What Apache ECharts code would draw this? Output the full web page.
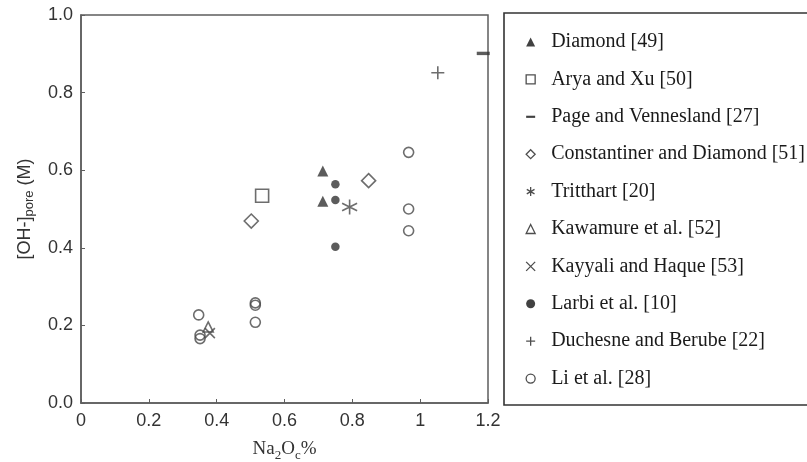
<!DOCTYPE html>
<html>
<head>
<meta charset="utf-8">
<script src="https://cdn.jsdelivr.net/npm/echarts@6/dist/echarts.min.js"></script>
<style>
  html, body { margin: 0; padding: 0; background: #fff; }
  #chart { width: 807px; height: 462px; }
</style>
</head>
<body>
<div id="chart"></div>
<script>
// Pore solution [OH-] against equivalent alkali content, by source
const seriesNames = [
  'Diamond [49]',
  'Arya and Xu [50]',
  'Page and Vennesland [27]',
  'Constantiner and Diamond [51]',
  'Tritthart [20]',
  'Kawamure et al. [52]',
  'Kayyali and Haque [53]',
  'Larbi et al. [10]',
  'Duchesne and Berube [22]',
  'Li et al. [28]'
];

// [Na2Oe %, [OH-] pore (M)]
const diamond49 = [[0.713, 0.598], [0.713, 0.520]];
const aryaXu50 = [[0.534, 0.534]];
const pageVennesland27 = [[1.186, 0.901]];
const constantinerDiamond51 = [[0.502, 0.469], [0.848, 0.573]];
const tritthart20 = [[0.792, 0.505]];
const kawamure52 = [[0.375, 0.196]];
const kayyaliHaque53 = [[0.380, 0.180]];
const larbi10 = [[0.750, 0.564], [0.750, 0.523], [0.750, 0.403]];
const duchesneBerube22 = [[1.052, 0.851]];
const li28 = [
  [0.966, 0.646], [0.966, 0.500], [0.966, 0.444],
  [0.514, 0.258], [0.514, 0.252], [0.514, 0.208],
  [0.347, 0.227], [0.351, 0.175], [0.351, 0.166]
];

const xTicks = { min: 0, max: 1.2, step: 0.2 };
const yTicks = { min: 0, max: 1.0, step: 0.2 };

const INK = '#333';
const LINE = '#484848';
const AXIS = '#5e5e5e';
const SANS = "'Liberation Sans Narrow', 'Liberation Sans', Arial, sans-serif";
const SERIF = "'Liberation Serif', 'Times New Roman', serif";

const PLUS = 'path://M5,0L5,10M0,5L10,5';
const CROSS = 'path://M0,0L10,10M10,0L0,10';
const STAR = 'path://M5,0L5,10M0.7,2.5L9.3,7.5M0.7,7.5L9.3,2.5';
const DASH = 'path://M0,0L10,0L10,2.4L0,2.4Z';

const filled = { color: INK, borderWidth: 0 };
const hollow = { color: 'rgba(0,0,0,0)', borderColor: LINE, borderWidth: 1.6 };

const styles = [
  { data: diamond49, symbol: 'triangle', size: 11, itemStyle: filled },
  { data: aryaXu50, symbol: 'rect', size: 13, itemStyle: hollow },
  { data: pageVennesland27, symbol: DASH, size: [13, 3.4], itemStyle: filled },
  { data: constantinerDiamond51, symbol: 'diamond', size: 14, itemStyle: hollow },
  { data: tritthart20, symbol: STAR, size: 15, itemStyle: hollow },
  { data: kawamure52, symbol: 'triangle', size: 10, itemStyle: hollow },
  { data: kayyaliHaque53, symbol: CROSS, size: 10, itemStyle: hollow },
  { data: larbi10, symbol: 'circle', size: 8.5, itemStyle: filled },
  { data: duchesneBerube22, symbol: PLUS, size: 13, itemStyle: hollow },
  { data: li28, symbol: 'circle', size: 10, itemStyle: hollow }
];

const series = styles.map((s, i) => ({
  name: seriesNames[i],
  type: 'scatter',
  data: s.data,
  symbol: s.symbol,
  symbolSize: s.size,
  itemStyle: s.itemStyle,
  clip: false,
  silent: true,
  z: 3
}));

const legendIcons = ['triangle', 'rect', DASH, 'diamond', STAR, 'triangle', CROSS, 'circle', PLUS, 'circle'];
const legendFilled = { color: '#111', borderWidth: 0 };
const legendHollow = { color: 'rgba(0,0,0,0)', borderColor: '#222', borderWidth: 1.3 };
const legendItemStyles = [
  legendFilled, legendHollow, legendFilled, legendHollow, legendHollow,
  legendHollow, legendHollow, legendFilled, legendHollow, legendHollow
];

const chart = echarts.init(document.getElementById('chart'), null, { renderer: 'canvas' });

chart.setOption({
  animation: false,
  backgroundColor: '#fff',
  grid: {
    left: 81, top: 15, width: 407, height: 388,
    containLabel: false,
    outerBoundsMode: 'none',
    show: true, borderColor: AXIS, borderWidth: 1.5, backgroundColor: 'transparent'
  },
  xAxis: {
    type: 'value',
    min: xTicks.min, max: xTicks.max, interval: xTicks.step,
    splitLine: { show: false },
    axisLine: { lineStyle: { color: AXIS, width: 1.5 } },
    axisTick: { inside: true, length: 4, lineStyle: { color: AXIS, width: 1 } },
    axisLabel: { margin: 9, fontSize: 18, color: '#333', fontFamily: SANS },
    name: '{a|Na}{s|2}{a|O}{s|c}{a|%}',
    nameLocation: 'middle',
    nameGap: 37,
    nameTextStyle: {
      rich: {
        a: { fontFamily: SERIF, fontSize: 19, color: '#333', lineHeight: 22, verticalAlign: 'top' },
        s: { fontFamily: SERIF, fontSize: 13, color: '#333', lineHeight: 13, verticalAlign: 'bottom', padding: [9, 0, 0, 0] }
      }
    }
  },
  yAxis: {
    type: 'value',
    min: yTicks.min, max: yTicks.max, interval: yTicks.step,
    splitLine: { show: false },
    axisLine: { lineStyle: { color: AXIS, width: 1.5 } },
    axisTick: { inside: true, length: 4, lineStyle: { color: AXIS, width: 1 } },
    axisLabel: {
      margin: 8, fontSize: 18, color: '#333', fontFamily: SANS,
      formatter: v => v.toFixed(1)
    },
    name: '{a|[OH-]}{s|pore}{a| (M)}',
    nameLocation: 'middle',
    nameRotate: 90,
    nameGap: 45,
    nameTextStyle: {
      rich: {
        a: { fontFamily: SANS, fontSize: 18, color: '#333', lineHeight: 22 },
        s: { fontFamily: SANS, fontSize: 13, color: '#333', lineHeight: 13, verticalAlign: 'bottom', padding: [10, 0, 0, 0] }
      }
    }
  },
  legend: {
    orient: 'vertical',
    left: 525.5,
    top: 31,
    padding: 0,
    itemWidth: 9,
    itemHeight: 9,
    itemGap: 15.4,
    selectedMode: false,
    textStyle: {
      fontFamily: SERIF, fontSize: 20, color: '#1a1a1a', lineHeight: 22,
      padding: [0, 0, 0, 11]
    },
    data: seriesNames.map((n, i) => ({
      name: n, icon: legendIcons[i], itemStyle: legendItemStyles[i]
    }))
  },
  graphic: [{
    type: 'rect',
    shape: { x: 504, y: 13, width: 330, height: 392 },
    style: { fill: 'none', stroke: '#333', lineWidth: 1.6 },
    silent: true,
    z: 0
  }],
  series: series
});
</script>
</body>
</html>
